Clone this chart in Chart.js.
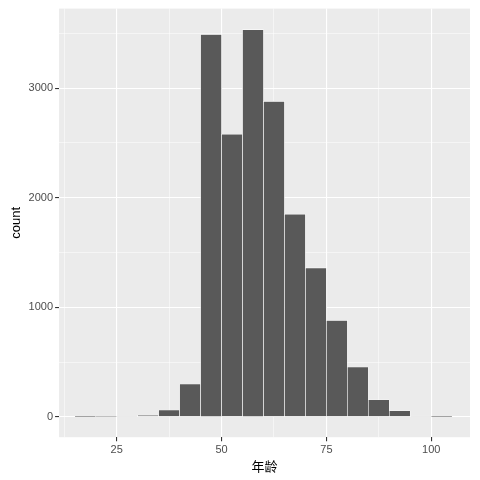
<!DOCTYPE html>
<html><head><meta charset="utf-8">
<script src="https://cdn.jsdelivr.net/npm/chart.js@4/dist/chart.umd.min.js"></script>
<style>html,body{margin:0;padding:0;background:#fff}</style>
</head><body><canvas id="c" width="480" height="480"></canvas>
<script>
const binCenters = [17.5,22.5,27.5,32.5,37.5,42.5,47.5,52.5,57.5,62.5,67.5,72.5,77.5,82.5,87.5,92.5,97.5,102.5];
const counts = [2,3,5,15,62,300,3490,2580,3535,2880,1850,1360,880,455,155,55,6,2];
const xTicks = [25,50,75,100];
const yTicks = [0,1000,2000,3000];

const bg = {id:'bg',beforeDraw(ch){const a=ch.chartArea,g=ch.ctx;g.save();g.fillStyle='#EBEBEB';g.fillRect(a.left,a.top,a.right-a.left,a.bottom-a.top);g.restore();}};
const isMajorX = v => xTicks.includes(v);
const isMajorY = v => yTicks.includes(v);
new Chart(document.getElementById('c'),{
  type:'bar',
  data:{datasets:[{data:binCenters.map((x,i)=>({x,y:counts[i]})),backgroundColor:'#595959',borderColor:'#ffffff',borderWidth:0.6,barPercentage:1,categoryPercentage:1,grouped:false}]},
  options:{responsive:false,animation:false,devicePixelRatio:1,
    layout:{padding:{left:5,right:10,top:5,bottom:2}},
    plugins:{legend:{display:false},tooltip:{enabled:false}},
    scales:{
      x:{type:'linear',min:11.25,max:109.25,offset:false,
        afterBuildTicks(s){s.ticks=[12.5,25,37.5,50,62.5,75,87.5,100].map(v=>({value:v}));},
        ticks:{autoSkip:false,maxRotation:0,color:'#4D4D4D',font:{family:'Liberation Sans',size:11},padding:2,
          callback:v=>isMajorX(v)?String(v):''},
        grid:{offset:false,color:'#fff',lineWidth:c=>isMajorX(c.tick&&c.tick.value)?1.1:0.5,tickColor:c=>isMajorX(c.tick&&c.tick.value)?'#333':'rgba(0,0,0,0)',tickLength:4},
        border:{display:false},
        title:{display:true,text:'年龄',color:'#000',font:{family:'Noto Sans CJK SC',size:13},padding:{top:0}}},
      y:{min:-186,max:3727,
        afterBuildTicks(s){s.ticks=[0,500,1000,1500,2000,2500,3000,3500].map(v=>({value:v}));},
        ticks:{autoSkip:false,color:'#4D4D4D',font:{family:'Liberation Sans',size:11},padding:2,
          callback:v=>isMajorY(v)?String(v):''},
        grid:{offset:false,color:'#fff',lineWidth:c=>isMajorY(c.tick&&c.tick.value)?1.1:0.5,tickColor:c=>isMajorY(c.tick&&c.tick.value)?'#333':'rgba(0,0,0,0)',tickLength:4},
        border:{display:false},
        title:{display:true,text:'count',color:'#000',font:{family:'Liberation Sans',size:13},padding:{bottom:2}}}
    }},
  plugins:[bg]
});
</script></body></html>
